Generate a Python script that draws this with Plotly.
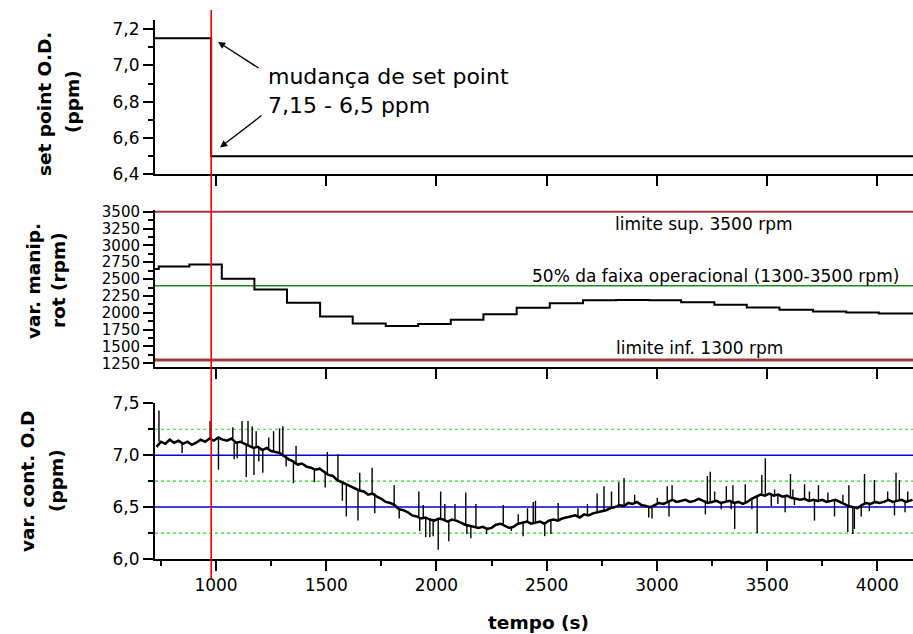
import plotly.graph_objects as go

# ---------------- data ----------------
CHANGE_TIME = 978
X_RANGE = [723, 4162]

SP_TIME = [723, 978, 4162]
SP_VALUE = [7.15, 6.5, 6.5]

RPM_TIME = [723, 740, 879, 1026, 1174, 1322, 1472, 1620, 1770, 1917, 2065, 2213, 2364,
            2514, 2665, 2815, 2965, 3110, 3261, 3408, 3556, 3708, 3859, 4007, 4162]
RPM_VALUE = [2650, 2685, 2715, 2505, 2345, 2150, 1945, 1840, 1805, 1835, 1895, 1980, 2075,
             2140, 2185, 2190, 2185, 2155, 2120, 2080, 2045, 2020, 2005, 1990, 1990]
RPM_MAX = 3500
RPM_MIN = 1300
RPM_MID = 2400

OD_TIME = list(range(730, 4151, 20)) + [4160]
OD_BASE = [
    7.08, 7.13, 7.11, 7.15, 7.12, 7.14, 7.11, 7.13, 7.10, 7.12,
    7.15, 7.13, 7.16, 7.14, 7.17, 7.15, 7.14, 7.16, 7.12, 7.13,
    7.11, 7.09, 7.07, 7.08, 7.05, 7.07, 7.04, 7.03, 7.02, 6.99,
    6.96, 6.94, 6.91, 6.92, 6.89, 6.88, 6.86, 6.87, 6.84, 6.81,
    6.80, 6.76, 6.74, 6.72, 6.70, 6.68, 6.66, 6.65, 6.62, 6.63,
    6.60, 6.58, 6.55, 6.54, 6.52, 6.48, 6.47, 6.45, 6.42, 6.41,
    6.39, 6.40, 6.38, 6.37, 6.39, 6.38, 6.36, 6.38, 6.37, 6.35,
    6.33, 6.32, 6.31, 6.30, 6.31, 6.29, 6.30, 6.33, 6.34, 6.32,
    6.30, 6.31, 6.34, 6.35, 6.36, 6.34, 6.35, 6.36, 6.34, 6.37,
    6.38, 6.37, 6.39, 6.40, 6.41, 6.42, 6.40, 6.43, 6.42, 6.44,
    6.45, 6.46, 6.47, 6.49, 6.50, 6.52, 6.51, 6.54, 6.53, 6.55,
    6.52, 6.51, 6.50, 6.52, 6.54, 6.53, 6.55, 6.57, 6.55, 6.56,
    6.57, 6.55, 6.56, 6.58, 6.56, 6.54, 6.55, 6.56, 6.54, 6.55,
    6.56, 6.54, 6.55, 6.53, 6.55, 6.58, 6.60, 6.62, 6.61, 6.63,
    6.61, 6.62, 6.60, 6.61, 6.59, 6.58, 6.57, 6.58, 6.56, 6.57,
    6.56, 6.57, 6.55, 6.56, 6.57, 6.55, 6.53, 6.51, 6.50, 6.49,
    6.52, 6.54, 6.53, 6.55, 6.54, 6.55, 6.57, 6.55, 6.56, 6.57,
    6.55, 6.56, 6.57,
]

SPIKE_TIME = [741, 846, 973, 1011, 1076, 1082, 1096, 1118, 1137, 1145, 1164, 1172, 1182, 1194,
              1212, 1239, 1261, 1288, 1303, 1318, 1351, 1363, 1446, 1495, 1505, 1553, 1573,
              1591, 1644, 1652, 1708, 1720, 1808, 1831, 1920, 1924, 1940, 1951, 1970, 1985,
              2008, 2019, 2038, 2056, 2084, 2133, 2138, 2156, 2179, 2227, 2303, 2340, 2371,
              2393, 2413, 2439, 2449, 2491, 2519, 2552, 2642, 2685, 2729, 2760, 2794, 2827,
              2851, 2899, 2963, 2978, 3002, 3047, 3055, 3069, 3220, 3229, 3242, 3262, 3292,
              3315, 3337, 3345, 3353, 3401, 3431, 3455, 3476, 3492, 3519, 3534, 3549, 3582,
              3606, 3617, 3624, 3670, 3692, 3715, 3733, 3776, 3806, 3844, 3866, 3871, 3889,
              3896, 3927, 3942, 3964, 3987, 4047, 4078, 4085, 4100, 4126, 4138]
SPIKE_VALUE = [7.43, 7.02, 7.33, 6.86, 7.27, 6.96, 6.97, 7.33, 6.79, 7.33, 7.28, 6.81, 7.23, 6.94,
               6.83, 7.17, 7.23, 7.26, 7.28, 6.89, 6.73, 7.09, 6.74, 6.69, 7.03, 7.01, 6.56,
               6.41, 6.37, 6.83, 6.88, 6.44, 6.71, 6.39, 6.65, 6.27, 6.52, 6.21, 6.21, 6.22,
               6.09, 6.65, 6.53, 6.17, 6.53, 6.64, 6.24, 6.20, 6.53, 6.24, 6.52, 6.27, 6.43,
               6.22, 6.49, 6.55, 6.56, 6.22, 6.24, 6.54, 6.49, 6.53, 6.63, 6.70, 6.65, 6.74,
               6.78, 6.62, 6.40, 6.39, 6.59, 6.70, 6.41, 6.71, 6.43, 6.80, 6.84, 6.65, 6.48,
               6.70, 6.48, 6.71, 6.29, 6.72, 6.48, 6.25, 6.81, 6.97, 6.51, 6.67, 6.53, 6.45,
               6.82, 6.67, 6.52, 6.72, 6.65, 6.37, 6.71, 6.64, 6.41, 6.62, 6.26, 6.71, 6.24,
               6.29, 6.41, 6.82, 6.46, 6.76, 6.65, 6.42, 6.83, 6.76, 6.45, 6.65]

X_TICKS = [1000, 1500, 2000, 2500, 3000, 3500, 4000]
X_TICK_LABELS = ["1000", "1500", "2000", "2500", "3000", "3500", "4000"]
SP_TICKS = [6.4, 6.6, 6.8, 7.0, 7.2]
SP_TICK_LABELS = ["6,4", "6,6", "6,8", "7,0", "7,2"]
RPM_TICKS = [1250, 1500, 1750, 2000, 2250, 2500, 2750, 3000, 3250, 3500]
RPM_TICK_LABELS = ["1250", "1500", "1750", "2000", "2250", "2500", "2750", "3000", "3250", "3500"]
OD_TICKS = [6.0, 6.5, 7.0, 7.5]
OD_TICK_LABELS = ["6,0", "6,5", "7,0", "7,5"]
OD_BLUE_LEVELS = [7.0, 6.5]
OD_GREEN_LEVELS = [7.25, 6.75, 6.25]

# spikes drawn as vertical strokes from the nearest baseline sample
spk_x, spk_y = [], []
for t, v in zip(SPIKE_TIME, SPIKE_VALUE):
    i = min(range(len(OD_TIME)), key=lambda k: abs(OD_TIME[k] - t))
    spk_x += [t, t, None]
    spk_y += [OD_BASE[i], v, None]

# ---------------- figure ----------------
W, H = 913, 634
ML = 155
PW = W - ML
FONT = "DejaVu Sans"


def px(xp):
    return (xp - ML) / PW


def py(yp):
    return 1 - yp / H


def pdom(top_px, bottom_px):
    return [1 - bottom_px / H, 1 - top_px / H]


fig = go.Figure()
fig.add_trace(go.Scatter(x=SP_TIME, y=SP_VALUE, mode="lines", line=dict(color="black", width=2, shape="hv"),
                         xaxis="x", yaxis="y", showlegend=False, hoverinfo="skip"))
fig.add_trace(go.Scatter(x=RPM_TIME, y=RPM_VALUE, mode="lines", line=dict(color="black", width=2, shape="hv"),
                         xaxis="x2", yaxis="y2", showlegend=False, hoverinfo="skip"))
fig.add_trace(go.Scatter(x=spk_x, y=spk_y, mode="lines", line=dict(color="black", width=1.4),
                         xaxis="x3", yaxis="y3", showlegend=False, hoverinfo="skip", connectgaps=False))
fig.add_trace(go.Scatter(x=OD_TIME, y=OD_BASE, mode="lines", line=dict(color="black", width=2.5),
                         xaxis="x3", yaxis="y3", showlegend=False, hoverinfo="skip"))

tickfont = dict(family=FONT, size=17, color="black")
xcommon = dict(range=X_RANGE, showline=True, linewidth=2, linecolor="black", ticks="outside",
               ticklen=10, tickwidth=1.5, tickcolor="black", showgrid=False, zeroline=False,
               tickmode="array", tickvals=X_TICKS, ticktext=X_TICK_LABELS, tickfont=tickfont,
               automargin=False)
ycommon = dict(showline=True, linewidth=2, linecolor="black", ticks="outside", ticklen=10,
               tickwidth=1.5, tickcolor="black", showgrid=False, zeroline=False, tickmode="array",
               tickfont=tickfont, automargin=False)

fig.update_layout(
    width=W, height=H, margin=dict(l=ML, r=0, t=0, b=0),
    paper_bgcolor="white", plot_bgcolor="white", template="none",
    font=dict(family=FONT, color="black"),
    xaxis=dict(xcommon, domain=[0, 1], anchor="y", showticklabels=False),
    xaxis2=dict(xcommon, domain=[0, 1], anchor="y2", showticklabels=False),
    xaxis3=dict(xcommon, domain=[0, 1], anchor="y3", showticklabels=True,
                minor=dict(tickmode="linear", tick0=750, dtick=500, ticks="outside", ticklen=5,
                           tickwidth=1.5, tickcolor="black")),
    yaxis=dict(ycommon, domain=pdom(20, 174.3), anchor="x", range=[6.4, 7.25],
               tickvals=SP_TICKS, ticktext=SP_TICK_LABELS,
               minor=dict(tickmode="linear", tick0=6.5, dtick=0.2, ticks="outside", ticklen=5,
                          tickwidth=1.5, tickcolor="black")),
    yaxis2=dict(ycommon, domain=pdom(210, 366.7), anchor="x2", range=[1200, 3525],
                tickvals=RPM_TICKS, ticktext=RPM_TICK_LABELS,
                tickfont=dict(family=FONT, size=15, color="black"),
                minor=dict(tickmode="linear", tick0=1375, dtick=250, ticks="outside", ticklen=5,
                           tickwidth=1.5, tickcolor="black")),
    yaxis3=dict(ycommon, domain=pdom(403.3, 559), anchor="x3", range=[6.0, 7.5],
                tickvals=OD_TICKS, ticktext=OD_TICK_LABELS,
                minor=dict(tickmode="linear", tick0=6.25, dtick=0.5, ticks="outside", ticklen=5,
                           tickwidth=1.5, tickcolor="black")),
)

shapes = []
shapes.append(dict(type="line", xref="x2 domain", x0=0, x1=1, yref="y2", y0=RPM_MAX, y1=RPM_MAX,
                   line=dict(color="#a33a3a", width=2), layer="below"))
shapes.append(dict(type="line", xref="x2 domain", x0=0, x1=1, yref="y2", y0=RPM_MIN, y1=RPM_MIN,
                   line=dict(color="#a33a3a", width=3), layer="below"))
shapes.append(dict(type="line", xref="x2 domain", x0=0, x1=1, yref="y2", y0=RPM_MID, y1=RPM_MID,
                   line=dict(color="#1a8a1a", width=1.5), layer="below"))
for lv in OD_BLUE_LEVELS:
    shapes.append(dict(type="line", xref="x3 domain", x0=0, x1=1, yref="y3", y0=lv, y1=lv,
                       line=dict(color="#0000dd", width=1.5), layer="below"))
for lv in OD_GREEN_LEVELS:
    shapes.append(dict(type="line", xref="x3 domain", x0=0, x1=1, yref="y3", y0=lv, y1=lv,
                       line=dict(color="#22dd22", width=1.2, dash="dot"), layer="below"))
shapes.append(dict(type="line", xref="x3", x0=CHANGE_TIME, x1=CHANGE_TIME, yref="paper",
                   y0=py(578), y1=py(10), line=dict(color="#ff0000", width=1.6), layer="above"))
fig.update_layout(shapes=shapes)

ann = []
# arrows
ann.append(dict(x=1009, y=7.129, xref="x", yref="y", ax=42, ay=27, text="", showarrow=True,
                arrowhead=2, arrowsize=1.1, arrowwidth=1.3, arrowcolor="black"))
ann.append(dict(x=1018, y=6.548, xref="x", yref="y", ax=43, ay=-33, text="", showarrow=True,
                arrowhead=2, arrowsize=1.1, arrowwidth=1.3, arrowcolor="black"))
ann.append(dict(x=px(266), y=py(76), xref="paper", yref="paper", text="mudança de set point",
                showarrow=False, xanchor="left", yanchor="middle", font=dict(family=FONT, size=22)))
ann.append(dict(x=px(266), y=py(106), xref="paper", yref="paper", text="7,15 - 6,5 ppm",
                showarrow=False, xanchor="left", yanchor="middle", font=dict(family=FONT, size=22)))
# middle panel labels
ann.append(dict(x=px(704), y=py(224), xref="paper", yref="paper", text="limite sup. 3500 rpm",
                showarrow=False, xanchor="center", yanchor="middle", font=dict(family=FONT, size=17)))
ann.append(dict(x=px(715), y=py(276), xref="paper", yref="paper",
                text="50% da faixa operacional (1300-3500 rpm)",
                showarrow=False, xanchor="center", yanchor="middle", font=dict(family=FONT, size=17)))
ann.append(dict(x=px(699), y=py(347.5), xref="paper", yref="paper", text="limite inf. 1300 rpm",
                showarrow=False, xanchor="center", yanchor="middle", font=dict(family=FONT, size=17)))
# axis titles
titlefont = dict(family=FONT, size=18.5, color="black", weight="bold")
for txt, xpx, ypx in [("set point O.D.", 45, 104), ("(ppm)", 72, 102),
                      ("var. manip.", 33, 281), ("rot (rpm)", 59, 280),
                      ("var. cont. O.D", 27, 482), ("(ppm)", 56, 480)]:
    ann.append(dict(x=px(xpx), y=py(ypx), xref="paper", yref="paper", text="<b>%s</b>" % txt,
                    showarrow=False, textangle=-90, xanchor="center", yanchor="middle",
                    font=titlefont))
ann.append(dict(x=px(538), y=py(622), xref="paper", yref="paper", text="<b>tempo (s)</b>",
                showarrow=False, xanchor="center", yanchor="middle", font=titlefont))
fig.update_layout(annotations=ann)

fig.write_html("out.html", config={"displayModeBar": False},
               post_script="document.body.style.margin='0';")
